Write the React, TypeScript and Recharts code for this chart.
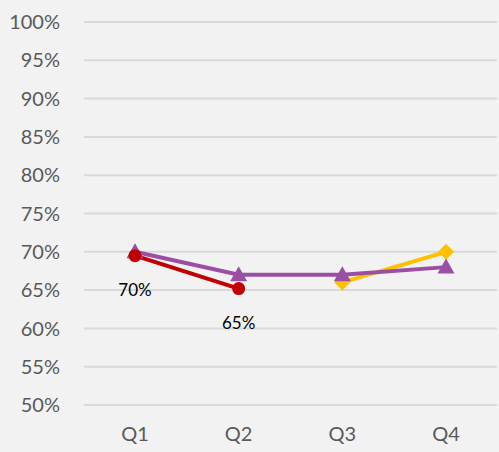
import React from "react";
import { LineChart, Line, XAxis, YAxis, CartesianGrid } from "recharts";

const categories = ["Q1", "Q2", "Q3", "Q4"];
const redValues: (number | null)[] = [0.695, 0.652, null, null];
const purpleValues: (number | null)[] = [0.7, 0.67, 0.67, 0.68];
const yellowValues: (number | null)[] = [null, null, 0.66, 0.7];
const redLabels = ["70%", "65%", "", ""];
const yTicks = [0.5, 0.55, 0.6, 0.65, 0.7, 0.75, 0.8, 0.85, 0.9, 0.95, 1.0];

const data = categories.map((c, i) => ({
  name: c,
  red: redValues[i],
  purple: purpleValues[i],
  yellow: yellowValues[i],
  redLabel: redLabels[i],
}));

const FONT = "Lato, 'Open Sans', sans-serif";

const Triangle = (props: any) => {
  const { cx, cy } = props;
  if (cx == null || cy == null) return null;
  const s = 8.5;
  return (
    <path
      d={`M${cx},${cy - s} L${cx + s},${cy + s * 0.75} L${cx - s},${cy + s * 0.75} Z`}
      fill="#9a4fa5"
    />
  );
};

const Diamond = (props: any) => {
  const { cx, cy } = props;
  if (cx == null || cy == null) return null;
  const s = 8;
  return (
    <path
      d={`M${cx},${cy - s} L${cx + s},${cy} L${cx},${cy + s} L${cx - s},${cy} Z`}
      fill="#ffc000"
    />
  );
};

const RedDot = (props: any) => {
  const { cx, cy } = props;
  if (cx == null || cy == null) return null;
  return <circle cx={cx} cy={cy} r={6.5} fill="#c00000" />;
};

const RedLabel = (props: any) => {
  const { x, y, index } = props;
  const t = redLabels[index];
  if (!t || x == null || y == null) return null;
  return (
    <text x={x} y={y + 34} dy={6} textAnchor="middle" fontSize={17} fill="#000" fontFamily={FONT}>
      {t}
    </text>
  );
};

export default function App() {
  return (
    <div style={{ position: "absolute", left: 0, top: 0, width: 499, height: 452, background: "#f2f2f2" }}>
      <LineChart
        width={499}
        height={452}
        data={data}
        margin={{ top: 22, right: 2, bottom: 0, left: 0 }}
      >
        <CartesianGrid vertical={false} stroke="#d9d9d9" strokeWidth={2} />
        <XAxis
          dataKey="name"
          axisLine={false}
          tickLine={false}
          height={47}
          tickSize={0}
          tickMargin={22}
          padding={{ left: 51, right: 51 }}
          tick={{ fill: "#595959", fontSize: 20, fontFamily: FONT }}
        />
        <YAxis
          domain={[0.5, 1.0]}
          ticks={yTicks}
          axisLine={false}
          tickLine={false}
          width={84}
          tickSize={0}
          tickMargin={24}
          tickFormatter={(v: number) => `${Math.round(v * 100)}%`}
          tick={{ fill: "#595959", fontSize: 20, fontFamily: FONT }}
        />
        <Line
          dataKey="yellow"
          stroke="#ffc000"
          strokeWidth={4}
          dot={<Diamond />}
          activeDot={false}
          isAnimationActive={false}
        />
        <Line
          dataKey="purple"
          stroke="#9a4fa5"
          strokeWidth={4}
          dot={<Triangle />}
          activeDot={false}
          isAnimationActive={false}
        />
        <Line
          dataKey="red"
          stroke="#c00000"
          strokeWidth={4}
          dot={<RedDot />}
          activeDot={false}
          label={<RedLabel />}
          isAnimationActive={false}
        />
      </LineChart>
    </div>
  );
}
